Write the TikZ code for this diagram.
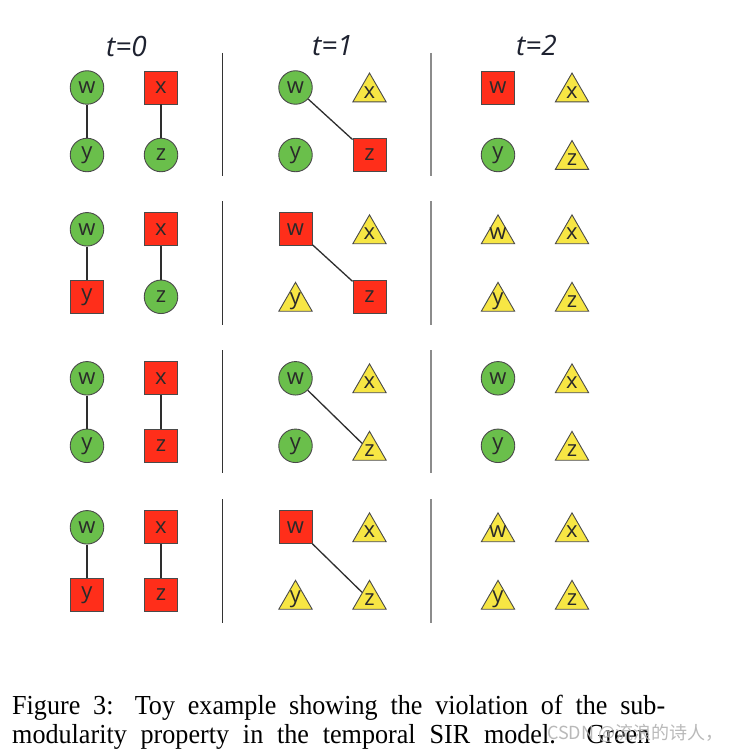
\documentclass[tikz,border=0pt]{standalone}
\usepackage{fontspec}
\usetikzlibrary{shapes.geometric}
\setmainfont{Liberation Serif}[FakeStretch=0.95]
\newfontfamily\nodefont{Open Sans}
\newfontfamily\headfont{Open Sans}
\newfontfamily\cjkfont{Noto Sans CJK SC}
\definecolor{grn}{HTML}{6ABF4B}
\definecolor{rd}{HTML}{FF2E1A}
\definecolor{ylw}{HTML}{F7E644}
\definecolor{edge}{HTML}{4A4A4A}
\definecolor{txt}{HTML}{2A2A2A}
\definecolor{conn}{HTML}{2E2E2E}
\definecolor{headc}{HTML}{1E2230}
\tikzset{
  base/.style={draw=edge, line width=0.9pt, text=txt, inner sep=0pt,
    font=\nodefont\fontsize{22}{22}\selectfont},
  G/.style={base, circle, minimum size=33.5pt, fill=grn},
  R/.style={base, rectangle, minimum size=33pt, fill=rd},
  T/.style={base, regular polygon, regular polygon sides=3, minimum size=38.5pt,
    inner sep=-9pt, fill=ylw, yshift=-4.8pt},
  conn/.style={draw=conn, line width=1.3pt},
  head/.style={font=\headfont\itshape\fontsize{28}{28}\selectfont, text=headc, inner sep=0pt},
  sepA/.style={draw=black!80, line width=1.1pt},
  sepB/.style={draw=black!45, line width=1.6pt},
  captxt/.style={anchor=base west, inner sep=0pt, font=\fontsize{27.5}{29}\selectfont}
}
\newcommand\mycell[7]{%
  \node[#4] (#1w) at (#2,#3) {w};
  \node[#5] (#1x) at (#2+74,#3) {x};
  \node[#6] (#1y) at (#2,#3+67.5) {y};
  \node[#7] (#1z) at (#2+74,#3+67.5) {z};
}
\begin{document}
\begin{tikzpicture}[x=1pt,y=-1pt]
\useasboundingbox (0,0) rectangle (737,751);
\fill[white] (0,0) rectangle (737,751);
% headings
\node[head] (h0) at (126.5,46) {t=0};
\node[head] (h1) at (332.5,46) {t=1};
\node[head] (h2) at (536.5,46) {t=2};
% separators
\foreach \ya/\yb in {53/176, 201.5/325, 350/473, 499/622.5}{
  \draw[sepA] (222.5,\ya) -- (222.5,\yb);
  \draw[sepB] (431,\ya) -- (431,\yb);
}
% row 1
\mycell{a0}{87}{87.5}{G}{R}{G}{G}
\mycell{a1}{295.5}{87.5}{G}{T}{G}{R}
\mycell{a2}{498}{87.5}{R}{T}{G}{T}
% row 2
\mycell{b0}{87}{229.3}{G}{R}{R}{G}
\mycell{b1}{295.5}{229.3}{R}{T}{T}{R}
\mycell{b2}{498}{229.3}{T}{T}{T}{T}
% row 3
\mycell{c0}{87}{378.3}{G}{R}{G}{R}
\mycell{c1}{295.5}{378.3}{G}{T}{G}{T}
\mycell{c2}{498}{378.3}{G}{T}{G}{T}
% row 4
\mycell{d0}{87}{527.3}{G}{R}{R}{R}
\mycell{d1}{295.5}{527.3}{R}{T}{T}{T}
\mycell{d2}{498}{527.3}{T}{T}{T}{T}
% connectors
\foreach \r in {a,b,c,d}{
  \draw[conn] (\r0w) -- (\r0y);
  \draw[conn] (\r0x) -- (\r0z);
  \draw[conn] (\r1w) -- (\r1z);
}
% caption
\node[captxt] (cap1) at (12,714.3)
  {\makebox[653pt][s]{Figure 3: Toy example showing the violation of the sub-}};
\node[captxt] (cap2) at (12,743.3)
  {\makebox[638pt][s]{modularity property in the temporal SIR model. Green}};
% watermark
\node[anchor=base west, inner sep=0pt, text=black!30, opacity=0.9,
  font=\cjkfont\fontsize{18}{18}\selectfont] (wm) at (547,739) {CSDN @流浪的诗人，};
\end{tikzpicture}
\end{document}
